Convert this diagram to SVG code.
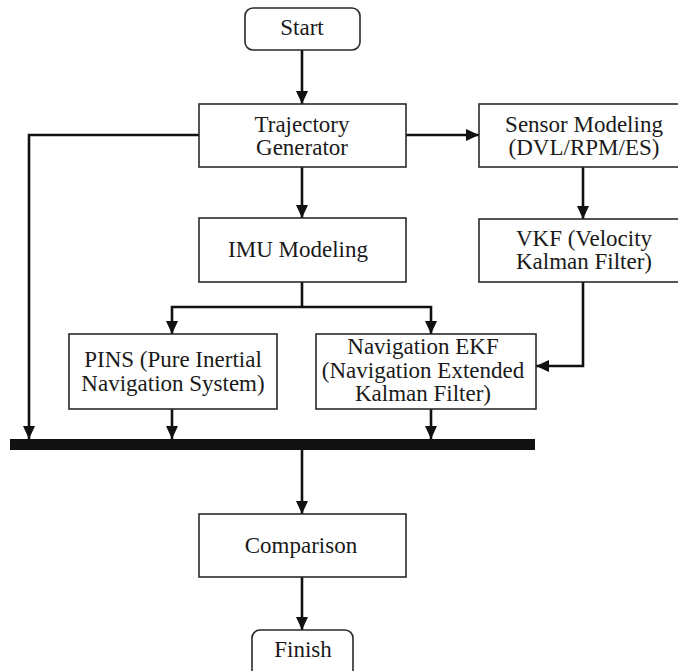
<svg xmlns="http://www.w3.org/2000/svg" width="678" height="671" viewBox="0 0 678 671">
<style>
.box{fill:#fff;stroke:#2a2a2a;stroke-width:1.6}
.t{font-family:'Liberation Serif','Times New Roman',Times,'DejaVu Serif',serif;font-size:23px;fill:#1a1a1a;text-anchor:middle}
.c{fill:none;stroke:#111;stroke-width:2.6}
</style>
<defs>
<marker id="ah" markerUnits="userSpaceOnUse" markerWidth="14" markerHeight="12" refX="13" refY="6" orient="auto">
<path d="M0,0 L13,6 L0,12 Z" fill="#111"/>
</marker>
</defs>
<rect width="678" height="671" fill="#fff"/>
<g id="connectors">
<line class="c" x1="302" y1="50" x2="302" y2="104" marker-end="url(#ah)"/>
<line class="c" x1="406" y1="135" x2="479" y2="135" marker-end="url(#ah)"/>
<polyline class="c" points="199,135 29,135 29,439" marker-end="url(#ah)"/>
<line class="c" x1="302" y1="167" x2="302" y2="218" marker-end="url(#ah)"/>
<line class="c" x1="583" y1="167" x2="583" y2="219" marker-end="url(#ah)"/>
<line class="c" x1="302" y1="282" x2="302" y2="307"/>
<polyline class="c" points="302,307 431,307 431,334" marker-end="url(#ah)"/>
<polyline class="c" points="302,307 172,307 172,334" marker-end="url(#ah)"/>
<polyline class="c" points="583,282 583,366 536,366" marker-end="url(#ah)"/>
<line class="c" x1="172" y1="409" x2="172" y2="439" marker-end="url(#ah)"/>
<line class="c" x1="431" y1="409" x2="431" y2="439" marker-end="url(#ah)"/>
<line class="c" x1="302" y1="450" x2="302" y2="514" marker-end="url(#ah)"/>
<line class="c" x1="302" y1="577" x2="302" y2="630" marker-end="url(#ah)"/>
</g>
<g id="bar"><rect x="10" y="439" width="525" height="11" fill="#111"/></g>
<g id="start"><rect class="box" x="245" y="8" width="115" height="42" rx="8"/><text class="t" x="302" y="35">Start</text></g>
<g id="trajectory"><rect class="box" x="199" y="104" width="207" height="63"/><text class="t" x="302" y="132">Trajectory</text><text class="t" x="302" y="155">Generator</text></g>
<g id="sensor"><rect class="box" x="479" y="104" width="205" height="63"/><text class="t" x="584" y="132">Sensor Modeling</text><text class="t" x="584" y="155">(DVL/RPM/ES)</text></g>
<g id="imu"><rect class="box" x="199" y="218" width="207" height="64"/><text class="t" x="298" y="257">IMU Modeling</text></g>
<g id="vkf"><rect class="box" x="479" y="219" width="205" height="63"/><text class="t" x="584" y="246">VKF (Velocity</text><text class="t" x="584" y="269">Kalman Filter)</text></g>
<g id="pins"><rect class="box" x="69" y="334" width="208" height="75"/><text class="t" x="173" y="367">PINS (Pure Inertial</text><text class="t" x="173" y="391">Navigation System)</text></g>
<g id="navekf"><rect class="box" x="316" y="334" width="220" height="75"/><text class="t" x="423" y="354">Navigation EKF</text><text class="t" x="423" y="378">(Navigation Extended</text><text class="t" x="423" y="401">Kalman Filter)</text></g>
<g id="comparison"><rect class="box" x="199" y="514" width="207" height="63"/><text class="t" x="301" y="553">Comparison</text></g>
<g id="finish"><rect class="box" x="252" y="630" width="101" height="48" rx="8"/><text class="t" x="303" y="657">Finish</text></g>
</svg>
